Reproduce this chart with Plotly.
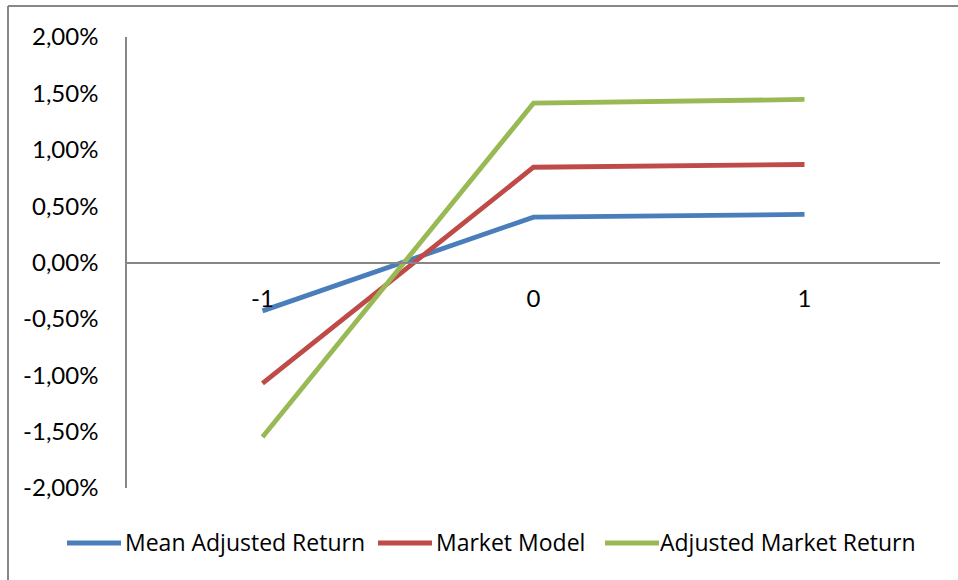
import plotly.graph_objects as go

# ---- data ----
event_days = [-1, 0, 1]
mean_adjusted = [-0.00429, 0.00402, 0.00426]
market_model = [-0.01073, 0.00845, 0.00869]
adjusted_market = [-0.01547, 0.01413, 0.01446]
series_names = ["Mean Adjusted Return", "Market Model", "Adjusted Market Return"]
series_colors = ["#4A7EBB", "#BE4B48", "#98B954"]
y_tick_vals = [-0.02, -0.015, -0.01, -0.005, 0.0, 0.005, 0.01, 0.015, 0.02]
y_tick_text = ["-2,00%", "-1,50%", "-1,00%", "-0,50%", "0,00%", "0,50%", "1,00%", "1,50%", "2,00%"]
x_tick_text = ["-1", "0", "1"]

FONT = "Lato"
LEG_FONT = "Open Sans"
W, H = 958, 580
L, R, T, B = 127, 18, 37, 92
PW, PH = W - L - R, H - T - B


def px(x):
    return (x - L) / PW


def py(y):
    return (H - B - y) / PH


fig = go.Figure()
for name, vals, col in zip(series_names, [mean_adjusted, market_model, adjusted_market], series_colors):
    fig.add_trace(go.Scatter(x=event_days, y=vals, mode="lines", name=name,
                             line=dict(color=col, width=4.8), showlegend=False))

shapes = []
annotations = []
# custom legend
legend_items = [(67, 121, 123), (378, 432, 434), (605, 659, 658)]
for (x0, x1, tx), name, col in zip(legend_items, series_names, series_colors):
    shapes.append(dict(type="line", xref="paper", yref="paper", x0=px(x0), x1=px(x1),
                       y0=py(543), y1=py(543), line=dict(color=col, width=4.8)))
    annotations.append(dict(xref="paper", yref="paper", x=px(tx), y=py(542), text=name,
                            showarrow=False, xanchor="left", yanchor="middle",
                            font=dict(family=LEG_FONT, size=23, color="#000000")))
# outer frame (top and left edges visible)
shapes.append(dict(type="line", xref="paper", yref="paper", x0=px(8), x1=px(W + 5),
                   y0=py(6), y1=py(6), line=dict(color="#878787", width=2)))
shapes.append(dict(type="line", xref="paper", yref="paper", x0=px(8), x1=px(8),
                   y0=py(6), y1=py(H + 5), line=dict(color="#878787", width=2)))

fig.update_layout(
    width=W, height=H,
    margin=dict(l=L, r=R, t=T, b=B),
    paper_bgcolor="white", plot_bgcolor="white",
    font=dict(family=FONT, size=24, color="#000000"),
    xaxis=dict(range=[-1.5, 1.5], tickvals=event_days, ticktext=x_tick_text,
               showgrid=False, zeroline=False, showline=True, linecolor="#868686", linewidth=1.5,
               ticks="", anchor="free", position=0.5, ticklabelstandoff=15,
               tickfont=dict(family=FONT, size=24)),
    yaxis=dict(range=[-0.02, 0.02], tickvals=y_tick_vals, ticktext=y_tick_text,
               showgrid=False, zeroline=False, showline=True, linecolor="#868686", linewidth=1.5,
               ticks="", ticklabelstandoff=22, tickfont=dict(family=FONT, size=24)),
    shapes=shapes,
    annotations=annotations,
    showlegend=False,
)

fig.write_html("out.html")
